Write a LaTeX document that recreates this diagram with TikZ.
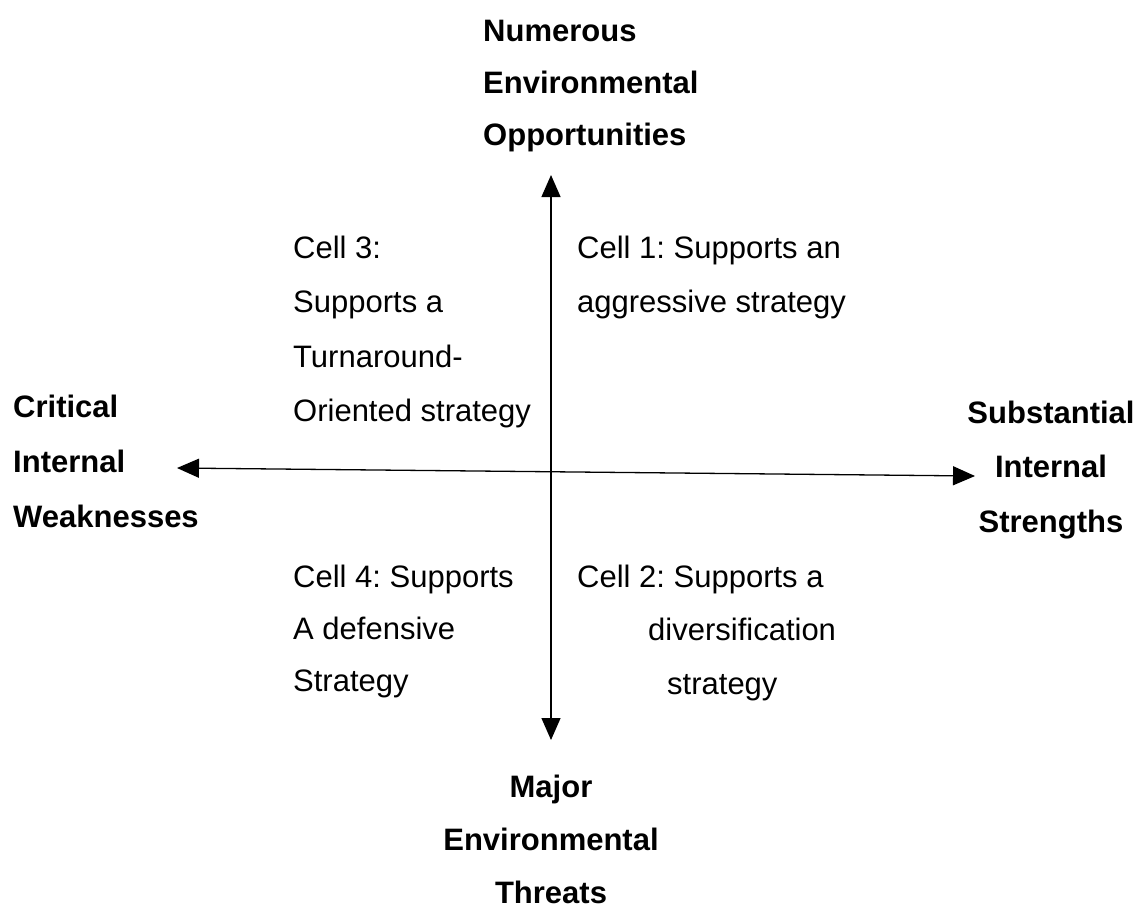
\documentclass[tikz,border=0pt]{standalone}
\usepackage{fontspec}
\setmainfont{Liberation Sans}
\usetikzlibrary{arrows.meta}
\frenchspacing
\begin{document}
\begin{tikzpicture}[x=1pt,y=-1pt,
  lbl/.style={inner sep=0pt, font=\frenchspacing\bfseries\fontsize{31}{#1}\selectfont},
  cell/.style={inner sep=0pt, align=left, anchor=north west, font=\frenchspacing\fontsize{31}{#1}\selectfont},
  axis/.style={line width=1.3pt, {Triangle[length=22pt,width=19pt]}-{Triangle[length=22pt,width=19pt]}}]
\useasboundingbox (0,0) rectangle (1142,908);
\node[lbl=52, align=left, anchor=north west] (opp) at (483,19.5) {Numerous\\Environmental\\Opportunities};
\node[lbl=53, align=center, anchor=north] (thr) at (551,774.5) {Major\\Environmental\\Threats};
\node[lbl=55, align=left, anchor=north west] (weak) at (13,394.5) {Critical\\Internal\\Weaknesses};
\node[lbl=54.5, align=center, anchor=north] (str) at (1051,400.5) {Substantial\\Internal\\Strengths};
\node[cell=54.5] (c3) at (293,235.5) {Cell 3:\\Supports a\\Turnaround-\\Oriented strategy};
\node[cell=54] (c1) at (577,235.5) {Cell 1: Supports an\\aggressive strategy};
\node[cell=52] (c4) at (293,564.5) {Cell 4: Supports\\A defensive\\Strategy};
\node[cell=53.5] (c2) at (577,564.5) {Cell 2: Supports a\\\hspace*{71pt}diversification\\\hspace*{90pt}strategy};
\coordinate (vt) at (551,175);
\coordinate (vb) at (551,740);
\coordinate (hl) at (177,468);
\coordinate (hr) at (975,476);
\draw[axis] (vt) -- (vb);
\draw[axis] (hl) -- (hr);
\end{tikzpicture}
\end{document}
